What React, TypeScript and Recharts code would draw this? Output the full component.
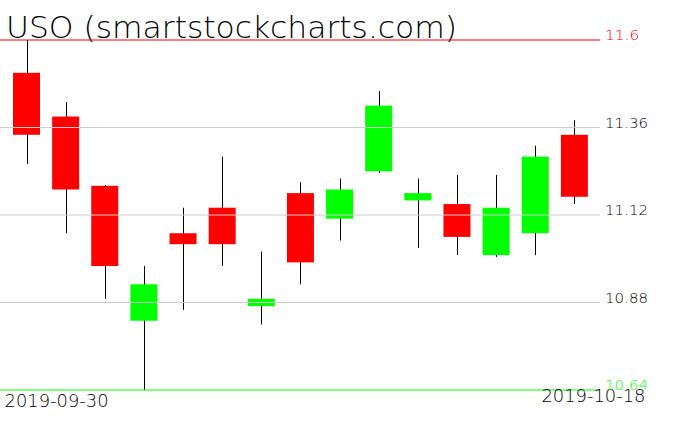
import { Bar, ComposedChart, Customized, ReferenceLine, XAxis, YAxis } from "recharts";

const dates = [
  "2019-09-30", "2019-10-01", "2019-10-02", "2019-10-03", "2019-10-04",
  "2019-10-07", "2019-10-08", "2019-10-09", "2019-10-10", "2019-10-11",
  "2019-10-14", "2019-10-15", "2019-10-16", "2019-10-17", "2019-10-18",
];
const opens = [11.51, 11.39, 11.2, 10.83, 11.07, 11.14, 10.87, 11.18, 11.11, 11.24, 11.16, 11.15, 11.01, 11.07, 11.34];
const highs = [11.6, 11.43, 11.202, 10.98, 11.14, 11.28, 11.02, 11.21, 11.22, 11.46, 11.22, 11.23, 11.23, 11.31, 11.38];
const lows = [11.26, 11.07, 10.89, 10.64, 10.86, 10.98, 10.82, 10.93, 11.05, 11.235, 11.03, 11.01, 11.005, 11.01, 11.15];
const closes = [11.34, 11.19, 10.98, 10.93, 11.04, 11.04, 10.89, 10.99, 11.19, 11.42, 11.18, 11.06, 11.14, 11.28, 11.17];

const priceTicks = [10.64, 10.88, 11.12, 11.36, 11.6];
const gridTicks = [10.88, 11.12, 11.36];

const data = dates.map((date, i) => ({
  date,
  open: opens[i],
  high: highs[i],
  low: lows[i],
  close: closes[i],
  range: [lows[i], highs[i]],
}));

const THIN = "'DejaVu Sans', sans-serif";

function Candle(props: any) {
  const { x, y, width, height, payload } = props;
  const top = Math.min(y, y + height);
  const h = Math.abs(height);
  const span = payload.high - payload.low;
  const ppu = span > 0 ? h / span : 0;
  const bodyTop = top + (payload.high - Math.max(payload.open, payload.close)) * ppu;
  const bodyBottom = top + (payload.high - Math.min(payload.open, payload.close)) * ppu;
  const cx = Math.round(x + width / 2) + 0.5;
  const fill = payload.close < payload.open ? "#ff0000" : "#00ff00";
  return (
    <g>
      <line x1={cx} x2={cx} y1={top} y2={top + h} stroke="#000" strokeWidth={1} />
      <rect x={x} y={bodyTop} width={width} height={Math.max(bodyBottom - bodyTop, 1)} fill={fill} />
    </g>
  );
}

function PriceTick(props: any) {
  const { x, y, payload } = props;
  const v = payload.value;
  const color = v === 11.6 ? "#ff0000" : v === 10.64 ? "#00ff00" : "#000";
  const label = String(v);
  return (
    <text
      x={x - 3}
      y={y}
      fill={color}
      fontFamily={THIN}
      fontWeight={200}
      fontSize={14}
      textAnchor="start"
      textLength={label.length * 8.6}
      lengthAdjust="spacingAndGlyphs"
    >
      {label}
    </text>
  );
}

function DateTick(props: any) {
  const { x, index } = props;
  const common = {
    fontFamily: THIN,
    fontWeight: 200,
    fontSize: 17,
    fill: "#000",
    textLength: 104,
    lengthAdjust: "spacingAndGlyphs" as const,
  };
  if (index === 0) {
    return (
      <text x={x - 22} y={407} {...common}>
        {dates[0]}
      </text>
    );
  }
  if (index === dates.length - 1) {
    return (
      <text x={x - 33} y={402} {...common}>
        {dates[dates.length - 1]}
      </text>
    );
  }
  return null;
}

function Title() {
  return (
    <text
      x={6}
      y={38}
      fontFamily={THIN}
      fontWeight={200}
      fontSize={30}
      fill="#000"
      textLength={451}
      lengthAdjust="spacingAndGlyphs"
    >
      USO (smartstockcharts.com)
    </text>
  );
}

export default function App() {
  return (
    <div style={{ position: "absolute", left: 0, top: 0, width: 676, height: 431, background: "#fff" }}>
      <ComposedChart width={676} height={431} data={data} margin={{ top: 40, right: 0, bottom: 0, left: 0 }}>
        <XAxis
          dataKey="date"
          height={41}
          axisLine={false}
          tickLine={false}
          interval={0}
          padding={{ left: 7, right: 6 }}
          tick={<DateTick />}
        />
        <YAxis
          orientation="right"
          width={76}
          type="number"
          domain={[10.64, 11.6]}
          ticks={priceTicks}
          allowDataOverflow
          axisLine={false}
          tickLine={false}
          tick={<PriceTick />}
        />
        {gridTicks.map((v) => (
          <ReferenceLine key={v} y={v} stroke="#cccccc" strokeWidth={1} />
        ))}
        <ReferenceLine y={11.6} stroke="#ff0000" strokeWidth={1} />
        <ReferenceLine y={10.64} stroke="#00ff00" strokeWidth={1} />
        <Bar dataKey="range" barSize={27} shape={<Candle />} isAnimationActive={false} />
        <Customized component={<Title />} />
      </ComposedChart>
    </div>
  );
}
